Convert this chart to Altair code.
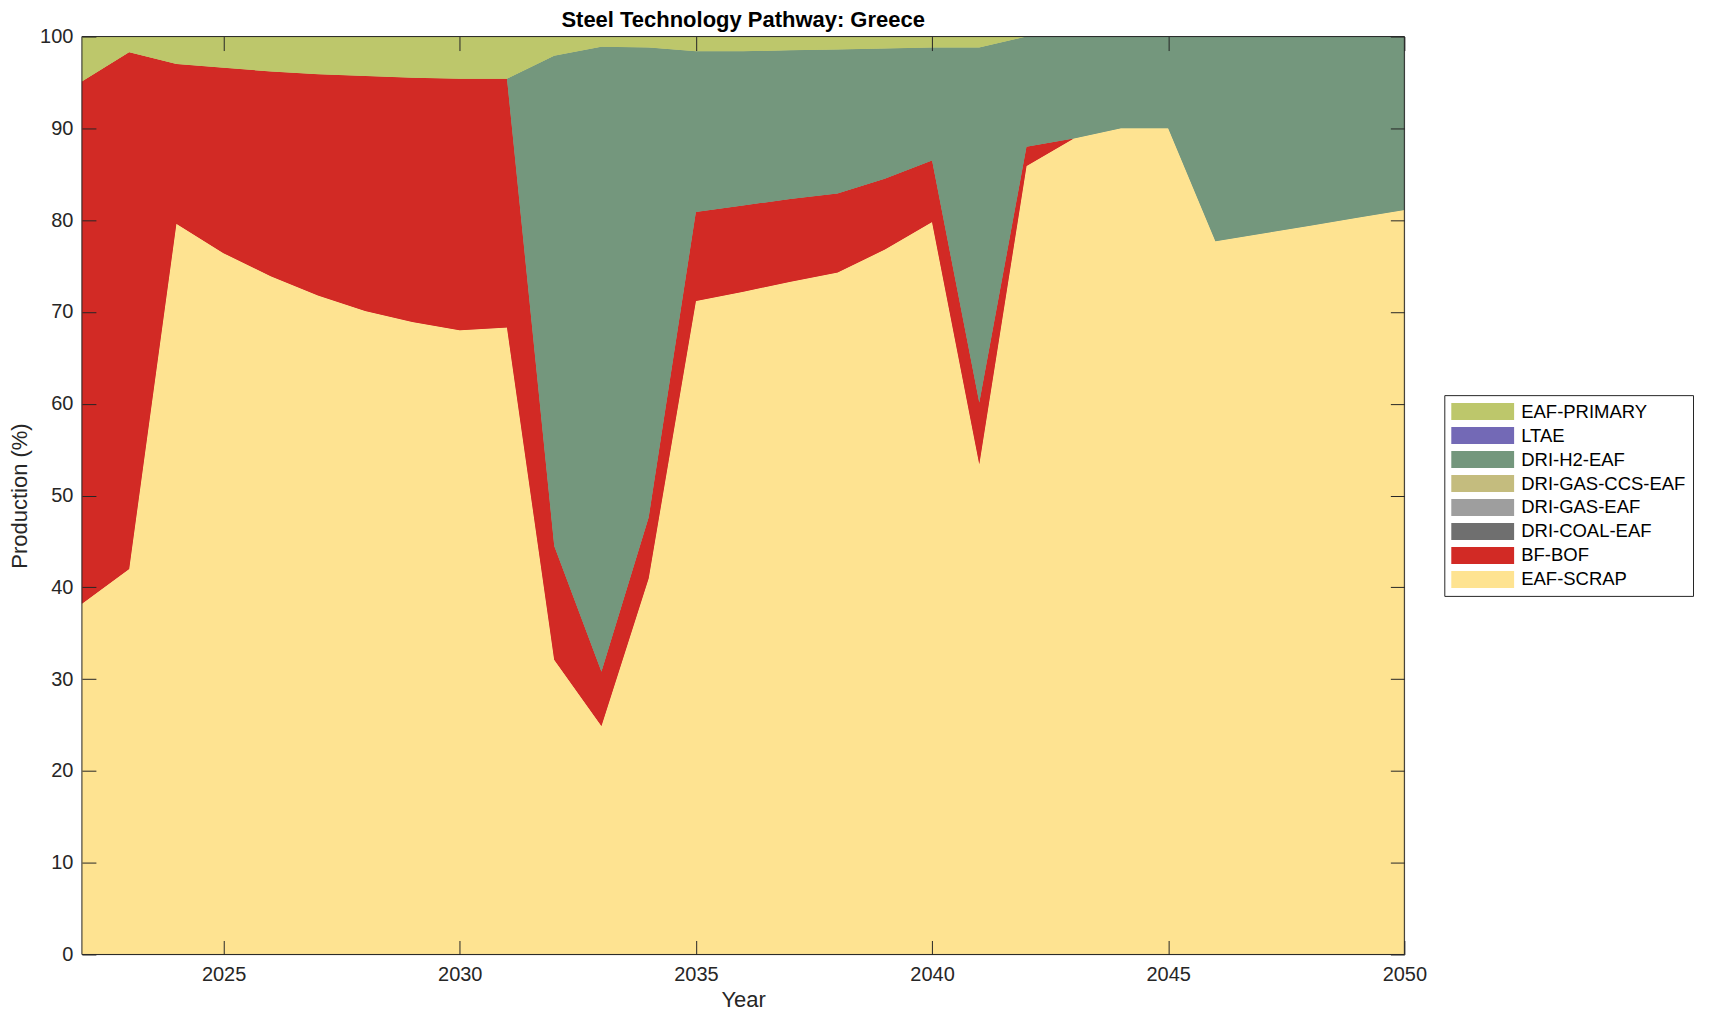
import altair as alt
import pandas as pd

years = list(range(2022, 2051))

technologies = ["EAF-PRIMARY", "LTAE", "DRI-H2-EAF", "DRI-GAS-CCS-EAF",
                "DRI-GAS-EAF", "DRI-COAL-EAF", "BF-BOF", "EAF-SCRAP"]
colors = ["#BDC76B", "#7369B6", "#74977D", "#C4BC7E",
          "#9E9E9E", "#6F6F6F", "#D22A25", "#FEE391"]

eaf_scrap = [38.2, 42.0, 79.6, 76.4, 73.9, 71.8, 70.1, 68.9, 68.0, 68.3,
             32.1, 24.9, 41.0, 71.2, 72.2, 73.3, 74.3, 76.8, 79.8, 53.4,
             85.9, 88.9, 90.0, 90.0, 77.7, 78.55, 79.4, 80.25, 81.1]
bf_bof = [56.9, 56.3, 17.4, 20.2, 22.3, 24.1, 25.6, 26.6, 27.4, 27.1,
          12.4, 5.9, 6.6, 9.7, 9.4, 9.0, 8.6, 7.7, 6.7, 6.7,
          2.1, 0, 0, 0, 0, 0, 0, 0, 0]
dri_coal_eaf = [0] * 29
dri_gas_eaf = [0] * 29
dri_gas_ccs_eaf = [0] * 29
dri_h2_eaf = [0, 0, 0, 0, 0, 0, 0, 0, 0, 0,
              53.4, 68.1, 51.2, 17.5, 16.8, 16.2, 15.7, 14.2, 12.3, 38.7,
              12.0, 11.1, 10.0, 10.0, 22.3, 21.45, 20.6, 19.75, 18.9]
ltae = [0] * 29
eaf_primary = [4.9, 1.7, 3.0, 3.4, 3.8, 4.1, 4.3, 4.5, 4.6, 4.6,
               2.1, 1.1, 1.2, 1.6, 1.6, 1.5, 1.4, 1.3, 1.2, 1.2,
               0, 0, 0, 0, 0, 0, 0, 0, 0]

# bottom-to-top stacking order
stack_series = [
    ("EAF-SCRAP", eaf_scrap),
    ("BF-BOF", bf_bof),
    ("DRI-COAL-EAF", dri_coal_eaf),
    ("DRI-GAS-EAF", dri_gas_eaf),
    ("DRI-GAS-CCS-EAF", dri_gas_ccs_eaf),
    ("DRI-H2-EAF", dri_h2_eaf),
    ("LTAE", ltae),
    ("EAF-PRIMARY", eaf_primary),
]

rows = []
for i, (name, vals) in enumerate(stack_series):
    for yr, v in zip(years, vals):
        rows.append({"Year": yr, "Technology": name, "Share": v, "order": i})
df = pd.DataFrame(rows)

x_ticks = [2025, 2030, 2035, 2040, 2045, 2050]
y_ticks = list(range(0, 101, 10))
axis_color = "#262626"
font = "Liberation Sans"

# frame of the axes box, from the axis extents
frame_df = pd.DataFrame({"x0": [years[0]], "x1": [years[-1]],
                         "y0": [y_ticks[0]], "y1": [y_ticks[-1]]})

# wide flat rectangle swatch: symbol radius 9.5px, spans 0..63px, height 17px
swatch = "M-1,-0.895L5.62,-0.895L5.62,0.895L-1,0.895Z"

color_enc = alt.Color(
    "Technology:N",
    scale=alt.Scale(domain=technologies, range=colors),
    legend=alt.Legend(
        orient="none", legendX=1364, legendY=359, title=None,
        symbolType=swatch, symbolSize=361,
        symbolStrokeWidth=0, symbolOpacity=1,
        labelFontSize=18.5, labelFont=font, labelColor="black",
        labelOffset=51, labelLimit=400, rowPadding=5, padding=7,
        strokeColor=axis_color, fillColor="white",
    ),
)

x_scale = alt.Scale(domain=[2022, 2050], nice=False, zero=False)
y_scale = alt.Scale(domain=[0, 100], nice=False)

main = alt.Chart(df).mark_area(interpolate="linear", opacity=1).encode(
    x=alt.X("Year:Q", scale=x_scale,
            axis=alt.Axis(orient="bottom", values=x_ticks, format="d",
                          tickSize=14, offset=-14, domain=False,
                          labelPadding=10, labelFlush=False,
                          labelFontSize=20, labelFont=font,
                          labelColor=axis_color, tickColor=axis_color,
                          title="Year", titleFontSize=22, titleFont=font,
                          titleFontWeight="normal", titleColor=axis_color,
                          titlePadding=5, grid=False, zindex=1)),
    y=alt.Y("Share:Q", stack="zero", scale=y_scale,
            axis=alt.Axis(orient="left", values=y_ticks,
                          tickSize=14, offset=-14, domain=False,
                          labelPadding=9, labelFontSize=20, labelFont=font,
                          labelColor=axis_color, tickColor=axis_color,
                          title="Production (%)", titleFontSize=22,
                          titleFont=font, titleFontWeight="normal",
                          titleColor=axis_color, titlePadding=8, grid=False,
                          zindex=1)),
    color=color_enc,
    order=alt.Order("order:Q", sort="ascending"),
)

mirror = alt.Chart(df).mark_area(interpolate="linear", opacity=1).encode(
    x=alt.X("Year:Q", scale=x_scale,
            axis=alt.Axis(orient="top", values=x_ticks, tickSize=14,
                          offset=-14, domain=False, labels=False,
                          tickColor=axis_color, title=None, grid=False,
                          zindex=1)),
    y=alt.Y("Share:Q", stack="zero", scale=y_scale,
            axis=alt.Axis(orient="right", values=y_ticks, tickSize=14,
                          offset=-14, domain=False, labels=False,
                          tickColor=axis_color, title=None, grid=False,
                          zindex=1)),
    color=color_enc,
    order=alt.Order("order:Q", sort="ascending"),
)

frame = alt.Chart(frame_df).mark_rect(
    filled=False, stroke=axis_color, strokeWidth=1
).encode(
    x=alt.X("x0:Q", scale=x_scale, axis=None),
    x2="x1:Q",
    y=alt.Y("y0:Q", scale=y_scale, axis=None),
    y2="y1:Q",
)

chart = alt.layer(main, mirror, frame).properties(
    width=1324,
    height=919,
    padding={"left": 74, "top": 28, "right": 297, "bottom": 56},
    autosize=alt.AutoSizeParams(type="none"),
    title=alt.TitleParams("Steel Technology Pathway: Greece", fontSize=22,
                          font=font, fontWeight="bold", color="black",
                          offset=4, dy=9, anchor="middle", frame="group"),
).configure_view(
    stroke=axis_color, strokeWidth=1
).configure(
    font=font, background="white"
)

chart.save("out.html", embed_options={"renderer": "svg", "actions": False})
